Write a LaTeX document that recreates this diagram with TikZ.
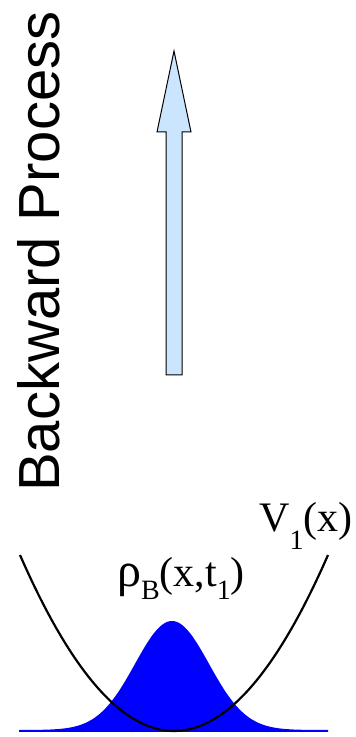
\documentclass[tikz,border=0pt]{standalone}
\usepackage{fontspec}
\setmainfont{Liberation Serif}
\newfontfamily\arialfont{Liberation Sans}
\usetikzlibrary{positioning}
\definecolor{arrowblue}{RGB}{204,229,255}
\definecolor{rhoblue}{RGB}{0,0,255}
\newcommand{\lowsub}[2]{\raisebox{-#1}{\fontsize{28bp}{28bp}\selectfont #2}}

\begin{document}
\begin{tikzpicture}[x=1bp, y=1bp,
  ttl/.style={font=\arialfont\fontsize{58bp}{60bp}\selectfont, rotate=90, anchor=base west, inner sep=0pt},
  lbl/.style={font=\fontsize{42bp}{44bp}\selectfont, anchor=base west, inner sep=0pt},
  pot/.style={draw=black, line width=2.2bp},
]
  \useasboundingbox (0,0) rectangle (355,737);
  \node[ttl] (title) at (59.5,245) {Backward Process};
  % fat arrow pointing up
  \draw[fill=arrowblue, line width=1bp] (166,362) -- (166,605) -- (157,605) -- (174,686)
    -- (191,605) -- (182,605) -- (182,362) -- cycle;
  % density and potential
  \fill[rhoblue] (19,5) -- plot[domain=19:328, samples=120, smooth]
    (\x, {7+109*exp(-0.5*((\x-172)/37)^2)}) -- (328,5) -- cycle;
  \draw[pot] plot[domain=20:328, samples=80, smooth] (\x, {6+176*((\x-174)/154)^2});
  \node[lbl] (vlab) at (259,205) {V\lowsub{18bp}{1}(x)};
  \node[lbl] (rholab) at (117,150) {{\fontsize{48bp}{48bp}\selectfont ρ}\lowsub{13bp}{B}(x,t\lowsub{13bp}{1})};
\end{tikzpicture}
\end{document}
